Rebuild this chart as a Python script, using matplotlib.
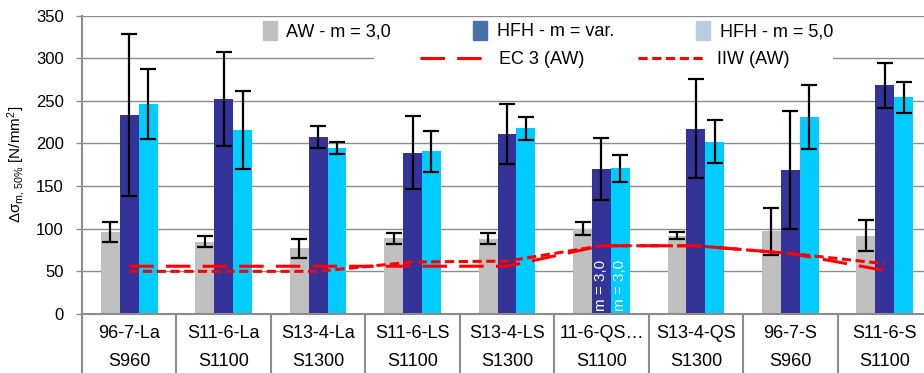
import matplotlib

matplotlib.use("Agg")

import matplotlib.pyplot as plt
import numpy as np
from matplotlib.lines import Line2D
from matplotlib.patches import Patch, Rectangle
from matplotlib.transforms import blended_transform_factory

plt.rcParams["font.family"] = ["Liberation Sans", "DejaVu Sans"]
plt.rcParams["mathtext.fontset"] = "custom"
plt.rcParams["mathtext.rm"] = "Liberation Sans"
plt.rcParams["mathtext.it"] = "Liberation Sans"

categories = ["96-7-La", "S11-6-La", "S13-4-La", "S11-6-LS", "S13-4-LS",
              "11-6-QS\u2026", "S13-4-QS", "96-7-S", "S11-6-S"]
grades = ["S960", "S1100", "S1300", "S1100", "S1300",
          "S1100", "S1300", "S960", "S1100"]

aw = [96, 85, 77, 89, 88, 100, 92, 97, 92]
aw_err = [12, 6, 11, 6.5, 6.5, 7.5, 4.5, 27.5, 18.5]
hfh_var = [233, 252, 208, 189, 211, 170, 217, 169, 268]
hfh_var_err = [95, 55, 13, 43, 35, 36, 58, 69, 26]
hfh_5 = [246, 216, 195, 191, 218, 171, 202, 231, 254]
hfh_5_err = [41, 46, 7, 24, 13.5, 16, 25, 38, 18]
ec3 = [56, 56, 56, 56, 56, 80, 80, 71, 51]
iiw = [50, 50, 50, 61, 62, 80, 80, 71, 59]

W, H = 924, 373
fig = plt.figure(figsize=(W / 100, H / 100), dpi=100)
ax = fig.add_axes([82 / W, 59 / H, 850 / W, 298.5 / H])

x = np.arange(len(categories))
bw = 0.2
err_kw = dict(ecolor="black", elinewidth=1.6, capsize=6, capthick=1.6)
ax.bar(x - bw, aw, bw, color="#c0c0c0", yerr=aw_err, error_kw=err_kw, zorder=2)
ax.bar(x, hfh_var, bw, color="#333399", yerr=hfh_var_err, error_kw=err_kw, zorder=2)
ax.bar(x + bw, hfh_5, bw, color="#00ccff", yerr=hfh_5_err, error_kw=err_kw, zorder=2)

ax.plot(x, ec3, color="#ff0000", lw=2.2, dashes=(8, 4), zorder=3)
ax.plot(x, iiw, color="#ff0000", lw=2.2, dashes=(3, 1.5), zorder=3)

# note inside the 11-6-QS bars
qs = categories.index("11-6-QS\u2026")
for dx in (0, bw):
    ax.text(qs + dx, 4, "m = 3,0", rotation=90, color="white", fontsize=11,
            ha="center", va="bottom", zorder=4)

ax.set_xlim(-0.5, len(categories) - 0.5)
ax.set_ylim(0, 350)
ax.set_yticks(range(0, 351, 50))
ax.tick_params(axis="y", labelsize=12, length=4, width=1, color="#8c8c8c", pad=9)
ax.set_xticks([])
ax.grid(axis="y", color="#8c8c8c", lw=1.0)
ax.set_axisbelow(True)
for side in ("top", "right"):
    ax.spines[side].set_visible(False)
for side in ("left", "bottom"):
    ax.spines[side].set_color("#8c8c8c")
    ax.spines[side].set_linewidth(1.5)

ax.set_ylabel(r"$\Delta\sigma_{\mathrm{m,\,50\%}}$ [N/mm$^2$]", fontsize=11)
ax.yaxis.set_label_coords(-0.063, 0.5)

# category table below the axis
trans = blended_transform_factory(ax.transData, ax.transAxes)
for b in np.arange(-0.5, len(categories), 1.0):
    ax.plot([b, b], [0, -0.25], transform=trans, color="#8c8c8c", lw=1.5,
            clip_on=False)
for i, (name, grade) in enumerate(zip(categories, grades)):
    ax.text(i, -0.064, name, transform=trans, ha="center", va="center", fontsize=13)
    ax.text(i, -0.158, grade, transform=trans, ha="center", va="center", fontsize=13)

# white strip behind second legend row
ax.add_patch(Rectangle(((374 - 82) / 850, (314 - 66) / 298.5), (833 - 374) / 850,
                       16 / 298.5, transform=ax.transAxes, facecolor="white",
                       edgecolor="none", zorder=1))

patches = [Patch(color="#c0c0c0", label="AW - m = 3,0"),
           Patch(color="#4a72a8", label="HFH - m = var."),
           Patch(color="#b9cde5", label="HFH - m = 5,0")]
leg1 = fig.legend(handles=patches, loc="upper left", ncol=3,
                  bbox_to_anchor=(263 / W, 1 - 21 / H), frameon=False, fontsize=13,
                  borderpad=0, borderaxespad=0, handlelength=0.75, handleheight=1.2,
                  handletextpad=0.55, columnspacing=4.55)
lines = [Line2D([], [], color="#ff0000", lw=2.2, dashes=(8, 4), label="EC 3 (AW)"),
         Line2D([], [], color="#ff0000", lw=2.2, dashes=(3, 1.5), label="IIW (AW)")]
leg2 = fig.legend(handles=lines, loc="center left", ncol=2,
                  bbox_to_anchor=(420 / W, 1 - 60 / H), frameon=False, fontsize=13,
                  borderpad=0, borderaxespad=0, handlelength=3.65,
                  handletextpad=0.7, columnspacing=3.0)

fig.savefig("out.png", dpi=100)
